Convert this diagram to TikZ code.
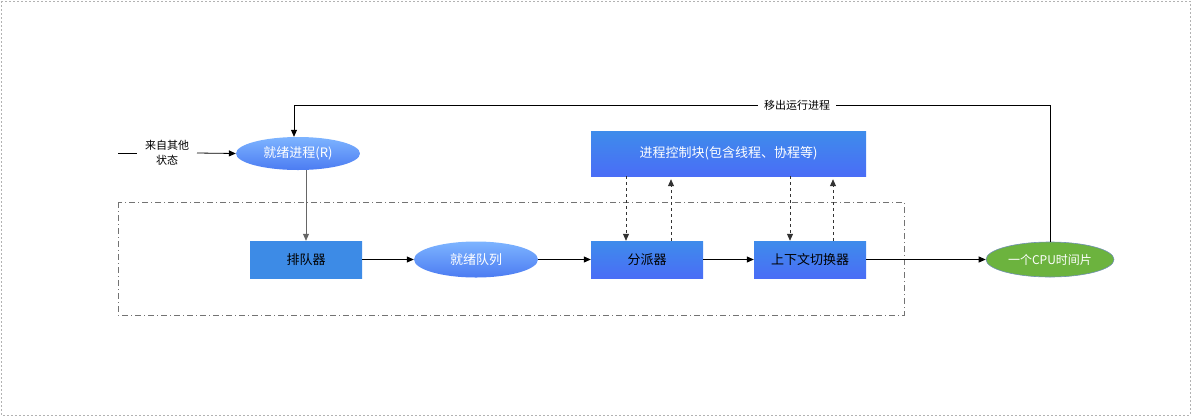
\documentclass[tikz,border=0pt]{standalone}
\usepackage{fontspec}
\setmainfont{Noto Sans CJK SC}
\usetikzlibrary{shapes.geometric,arrows.meta}
\definecolor{elltop}{HTML}{7DB4FF}
\definecolor{ellbot}{HTML}{4C7CF2}
\definecolor{recttop}{HTML}{3E8CEB}
\definecolor{rectbot}{HTML}{4A6DF6}
\definecolor{queuec}{HTML}{3D8BE6}
\definecolor{cpugreen}{HTML}{6CB33E}
\definecolor{cpuedge}{HTML}{6F8FB0}
\tikzset{
  ellnode/.style={ellipse, draw=none, top color=elltop, bottom color=ellbot, text=white, inner sep=0pt, font=\fontsize{13}{15}\selectfont},
  boxnode/.style={rectangle, draw=none, top color=recttop, bottom color=rectbot, inner sep=0pt, font=\fontsize{13}{15}\selectfont},
  conn/.style={draw=black, line width=0.8pt, -{Triangle[length=7pt,width=6pt]}},
  dconn/.style={draw=black!80, line width=0.8pt, dash pattern=on 3pt off 3pt, -{Triangle[length=7pt,width=6pt]}},
  lbl/.style={font=\fontsize{11}{15}\selectfont, align=center, inner sep=1pt}
}
\begin{document}
\begin{tikzpicture}[x=1pt,y=-1pt]
\useasboundingbox (0,0) rectangle (1191,416);
\draw[black!30, dash pattern=on 2pt off 2pt] (1,1) rectangle (1190,415);
% dash-dot region
\draw[black!55, line width=0.7pt, dash pattern=on 6pt off 3pt on 1pt off 3pt] (118,202) rectangle (904,315);
% nodes
\node[lbl] (other) at (167,153) {来自其他\\状态};
\coordinate (otherstart) at (118,153);
\coordinate (otherend) at (137,153);
\coordinate (otherarr) at (197,153);
\node[ellnode, minimum width=124pt, minimum height=33pt] (ready) at (298,153.5) {就绪进程(R)};
\node[boxnode, top color=queuec, bottom color=queuec, minimum width=112pt, minimum height=37pt] (queuer) at (306,259.5) {排队器};
\node[ellnode, minimum width=124pt, minimum height=36pt] (rq) at (476,259.5) {就绪队列};
\node[boxnode, minimum width=112pt, minimum height=37pt] (disp) at (647,259.5) {分派器};
\node[boxnode, minimum width=112pt, minimum height=37pt] (ctx) at (810,259.5) {上下文切换器};
\node[boxnode, text=white, minimum width=275pt, minimum height=45pt] (pcb) at (728.5,153.5) {进程控制块(包含线程、协程等)};
\node[ellipse, draw=cpuedge, line width=0.6pt, fill=cpugreen, text=white, inner sep=0pt, minimum width=128pt, minimum height=35pt, font=\fontsize{12}{14}\selectfont] (cpu) at (1050,259.5) {一个CPU时间片};
\node[lbl, fill=white, inner xsep=6pt] (moveout) at (797,105) {移出运行进程};
\coordinate (topleft) at (294,105);
% connectors
\draw[line width=0.8pt] (otherstart) -- (otherend);
\draw[conn] (otherarr) -- (ready.west);
\draw[conn, draw=black!60] (ready.south -| queuer.north) -- (queuer.north);
\draw[conn] (queuer) -- (rq);
\draw[conn] (rq) -- (disp);
\draw[conn] (disp) -- (ctx);
\draw[conn] (ctx) -- (cpu);
\draw[dconn] (pcb.south -| 626,0) -- (disp.north -| 626,0);
\draw[dconn] (disp.north -| 671,0) -- ([yshift=-3pt]pcb.south -| 671,0);
\draw[dconn] (pcb.south -| 790,0) -- (ctx.north -| 790,0);
\draw[dconn] (ctx.north -| 833,0) -- ([yshift=-3pt]pcb.south -| 833,0);
\draw[line width=0.7pt] (cpu.north) -- (cpu.north |- topleft) -- (moveout.east);
\draw[conn, line width=0.7pt] (moveout.west) -- (topleft) -- (ready.north -| topleft);
\end{tikzpicture}
\end{document}
